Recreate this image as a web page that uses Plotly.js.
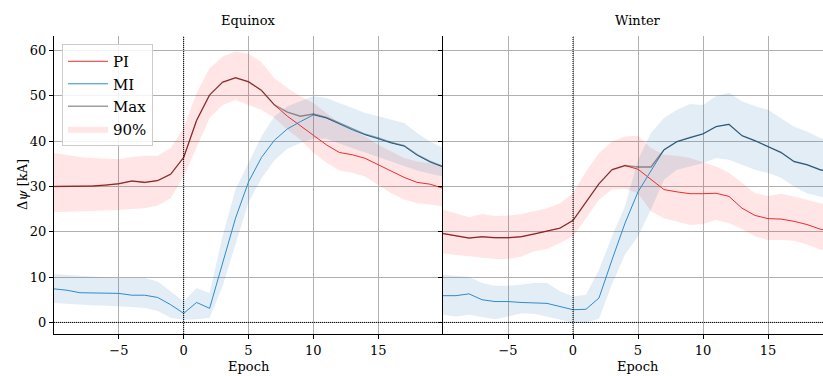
<!DOCTYPE html>
<html>
<head>
<meta charset="utf-8">
<script src="https://cdn.plot.ly/plotly-3.0.1.min.js"></script>
<style>html,body{margin:0;padding:0;background:#fff;}#chart{width:823px;height:376px;}</style>
</head>
<body>
<div id="chart"></div>
<script>
// ---------- data ----------
const epoch = [-10,-9,-8,-7,-6,-5,-4,-3,-2,-1,0,1,2,3,4,5,6,7,8,9,10,11,12,13,14,15,16,17,18,19,20];
const panelTitles = ["Equinox", "Winter"];
const xTickVals = [-5, 0, 5, 10, 15];
const yTickVals = [0, 10, 20, 30, 40, 50, 60];

// Equinox
const eqPI    = [30.0,30.0,30.05,30.1,30.3,30.6,31.2,30.9,31.3,32.7,36.4,44.6,50.2,53.0,54.0,53.1,51.2,48.0,45.5,43.3,41.3,39.2,37.5,37.0,36.2,34.8,33.4,32.0,30.9,30.5,29.6];
const eqMI    = [7.4,7.1,6.55,6.5,6.55,6.4,6.0,6.0,5.5,3.9,2.0,4.4,3.1,13.1,23.0,31.0,36.4,40.2,42.7,44.3,45.8,45.1,43.8,42.5,41.4,40.5,39.6,38.9,36.9,35.4,34.3];
const eqMax   = [30.0,30.0,30.05,30.1,30.3,30.6,31.2,30.9,31.3,32.7,36.4,44.6,50.2,53.0,54.0,53.1,51.2,48.0,46.4,45.5,46.0,45.2,44.0,42.7,41.5,40.7,39.7,39.0,37.0,35.5,34.4];
const eqPIlo  = [24.3,24.4,24.5,24.5,24.6,24.8,25.0,25.2,25.8,27.4,32.2,38.8,45.1,48.0,49.1,48.0,46.9,45.1,42.5,40.3,37.5,35.3,33.5,33.0,32.2,30.4,28.5,27.1,26.3,26.0,25.6];
const eqPIhi  = [37.4,37.0,36.5,36.3,36.2,36.0,36.5,36.8,36.8,38.5,42.9,50.6,56.1,58.7,59.8,59.3,57.4,53.9,51.7,49.9,48.4,46.2,44.0,42.5,41.0,39.2,37.7,36.3,35.5,35.2,34.8];
const eqMIlo  = [4.3,4.1,3.9,3.8,3.7,3.6,3.4,3.2,2.5,1.0,0.6,0.7,1.0,8.0,17.0,26.5,31.8,35.8,38.3,39.6,40.5,40.5,39.5,38.5,37.5,36.5,35.5,34.5,33.5,32.8,32.2];
const eqMIhi  = [10.7,10.5,10.2,10.0,9.9,9.8,9.8,9.8,9.0,6.8,4.6,7.6,6.5,19.0,29.3,35.2,41.0,45.5,47.7,48.8,49.9,49.5,48.4,47.3,46.2,45.5,44.7,44.0,41.8,39.9,38.5];

// Winter
const wiPI    = [19.6,19.1,18.6,18.9,18.7,18.7,18.9,19.5,20.1,20.8,22.5,26.5,30.6,33.7,34.6,33.8,31.5,29.3,28.8,28.4,28.4,28.5,27.8,25.2,23.6,22.9,22.8,22.3,21.6,20.6,19.9];
const wiMI    = [5.9,5.9,6.3,5.0,4.6,4.6,4.4,4.3,4.2,3.5,2.8,2.9,5.4,13.8,21.9,28.8,33.3,38.1,39.9,40.8,41.6,43.2,43.7,41.2,40.1,38.8,37.5,35.5,34.8,33.7,33.0];
const wiMax   = [19.6,19.1,18.6,18.9,18.7,18.7,18.9,19.5,20.1,20.8,22.5,26.5,30.6,33.7,34.6,34.3,34.3,38.1,39.9,40.8,41.6,43.2,43.7,41.2,40.1,38.8,37.5,35.5,34.8,33.7,33.0];
const wiPIlo  = [15.2,14.9,14.6,14.3,14.0,14.0,14.5,15.7,16.2,17.5,19.0,23.0,27.1,29.3,29.5,28.5,24.5,23.0,22.3,21.5,21.7,22.6,21.9,20.6,19.0,18.2,18.2,18.0,17.2,16.1,15.8];
const wiPIhi  = [24.9,24.0,23.2,23.9,23.5,23.6,23.9,24.5,25.2,26.3,28.5,33.3,37.4,39.9,41.0,41.2,38.5,37.0,36.8,36.3,35.3,34.4,33.0,30.7,28.5,27.9,28.4,27.8,27.0,26.3,26.0];
const wiMIlo  = [1.7,1.3,1.7,1.2,0.7,1.3,2.0,1.9,1.3,0.6,0.0,0.0,0.8,8.5,15.0,19.0,24.9,31.5,33.7,34.4,35.2,36.3,35.9,34.8,33.7,33.0,31.9,30.0,28.5,27.8,27.2];
const wiMIhi  = [10.5,10.3,10.0,8.7,8.1,8.1,8.3,8.7,8.7,6.9,5.7,6.1,11.6,19.0,25.6,35.9,41.8,45.1,46.9,48.2,48.0,49.9,50.7,48.8,47.7,46.9,45.1,43.2,42.1,40.7,40.0];

// ---------- styles ----------
const cPI = '#f02a2a';
const cMI = '#2e8ccc';
const cMax = 'rgba(0,0,0,0.38)';
const fPI = 'rgba(255,0,0,0.10)';
const fMI = 'rgba(31,119,180,0.13)';
const FONT = 'DejaVu Serif';
const FS = 13;

function panel(xa, ya, PI, MI, MX, PIlo, PIhi, MIlo, MIhi, legend) {
  const base = {x: epoch, xaxis: xa, yaxis: ya, mode: 'lines', hoverinfo: 'skip'};
  return [
    Object.assign({}, base, {y: PIlo, line: {width: 0, color: fPI}, showlegend: false}),
    Object.assign({}, base, {y: PIhi, fill: 'tonexty', fillcolor: fPI, line: {width: 0, color: fPI}, name: '90%', showlegend: legend, legendrank: 4}),
    Object.assign({}, base, {y: MIlo, line: {width: 0, color: fMI}, showlegend: false}),
    Object.assign({}, base, {y: MIhi, fill: 'tonexty', fillcolor: fMI, line: {width: 0, color: fMI}, showlegend: false}),
    Object.assign({}, base, {y: PI, line: {width: 1, color: cPI}, name: 'PI', showlegend: legend, legendrank: 1}),
    Object.assign({}, base, {y: MI, line: {width: 1, color: cMI}, name: 'MI', showlegend: legend, legendrank: 2}),
    Object.assign({}, base, {y: MX, line: {width: 1.5, color: cMax}, name: 'Max', showlegend: legend, legendrank: 3})
  ];
}

const data = [].concat(
  panel('x', 'y', eqPI, eqMI, eqMax, eqPIlo, eqPIhi, eqMIlo, eqMIhi, true),
  panel('x2', 'y2', wiPI, wiMI, wiMax, wiPIlo, wiPIhi, wiMIlo, wiMIhi, false)
);

const splitFrac = (443 - 54) / 769;
const xBase = {
  tickvals: xTickVals, ticks: 'outside', ticklen: 4, tickwidth: 1, tickcolor: '#000',
  showline: true, linecolor: '#000', linewidth: 1.2, mirror: false,
  showgrid: true, gridcolor: '#b0b0b0', gridwidth: 1, zeroline: false,
  tickfont: {family: FONT, size: FS, color: '#000'}
};
const yBase = {
  range: [-2.56, 63.2], tickvals: yTickVals, ticks: 'outside', ticklen: 4, tickwidth: 1, tickcolor: '#000',
  showline: true, linecolor: '#000', linewidth: 1.2,
  showgrid: true, gridcolor: '#b0b0b0', gridwidth: 1, zeroline: false,
  tickfont: {family: FONT, size: FS, color: '#000'}
};
const dotLine = {color: '#000', width: 1, dash: '1px,1px'};

const layout = {
  width: 823, height: 376,
  margin: {l: 54, r: 0, t: 36, b: 42},
  paper_bgcolor: '#fff', plot_bgcolor: '#fff',
  font: {family: FONT, size: FS, color: '#000'},
  showlegend: true,
  legend: {
    x: 0.0104, y: 0.973, xanchor: 'left', yanchor: 'top',
    bgcolor: 'rgba(255,255,255,0.85)', bordercolor: '#cccccc', borderwidth: 1,
    itemwidth: 40,
    font: {family: FONT, size: 15, color: '#000'}, traceorder: 'normal'
  },
  xaxis: Object.assign({}, xBase, {domain: [0, splitFrac], range: [-10, 20], anchor: 'y'}),
  xaxis2: Object.assign({}, xBase, {domain: [splitFrac, 1], range: [-10, -10 + 380 / 13], anchor: 'y2'}),
  yaxis: Object.assign({}, yBase, {domain: [0, 1], anchor: 'x'}),
  yaxis2: Object.assign({}, yBase, {domain: [0, 1], anchor: 'x2', showticklabels: false}),
  shapes: [
    {type: 'line', xref: 'x', yref: 'paper', x0: 0, x1: 0, y0: 0, y1: 1, line: dotLine},
    {type: 'line', xref: 'x2', yref: 'paper', x0: 0, x1: 0, y0: 0, y1: 1, line: dotLine},
    {type: 'line', xref: 'paper', yref: 'y', x0: 0, x1: 1, y0: 0, y1: 0, line: dotLine}
  ],
  annotations: [
    {text: panelTitles[0], xref: 'x', yref: 'paper', x: 5, y: 1, yanchor: 'bottom', yshift: 6, showarrow: false, font: {family: FONT, size: FS}},
    {text: panelTitles[1], xref: 'x2', yref: 'paper', x: 5, y: 1, yanchor: 'bottom', yshift: 6, showarrow: false, font: {family: FONT, size: FS}},
    {text: 'Epoch', xref: 'x', yref: 'paper', x: 5, y: 0, yanchor: 'top', yshift: -23, showarrow: false, font: {family: FONT, size: FS}},
    {text: 'Epoch', xref: 'x2', yref: 'paper', x: 5, y: 0, yanchor: 'top', yshift: -23, showarrow: false, font: {family: FONT, size: FS}},
    {text: 'Δ<i>ψ</i> [kA]', xref: 'paper', yref: 'paper', x: -32 / 769, y: 0.5, xanchor: 'center', yanchor: 'middle', textangle: -90, showarrow: false, font: {family: FONT, size: FS}}
  ]
};

Plotly.newPlot('chart', data, layout, {displayModeBar: false, staticPlot: true});
</script>
</body>
</html>
